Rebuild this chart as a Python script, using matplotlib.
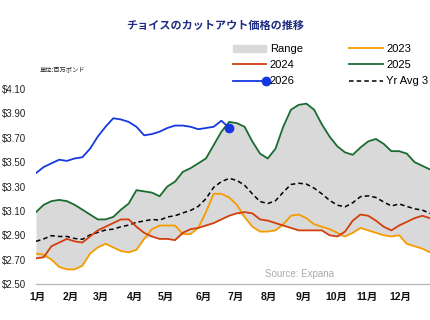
import numpy as np
import matplotlib
matplotlib.use("Agg")
import matplotlib.pyplot as plt
from matplotlib.lines import Line2D
from matplotlib.patches import Patch
from matplotlib.legend_handler import HandlerBase

plt.rcParams['font.family'] = ['Liberation Sans', 'Noto Sans CJK JP', 'DejaVu Sans']

# weekly prices ($)
y2023 = [2.75, 2.74, 2.70, 2.64, 2.62, 2.62, 2.65, 2.75, 2.80, 2.83, 2.80, 2.77, 2.76, 2.78,
         2.87, 2.95, 2.98, 2.98, 2.98, 2.91, 2.91, 2.96, 3.09, 3.24, 3.24, 3.21, 3.15, 3.05,
         2.97, 2.93, 2.93, 2.94, 2.99, 3.06, 3.07, 3.04, 2.99, 2.97, 2.95, 2.92, 2.89, 2.92,
         2.96, 2.94, 2.92, 2.90, 2.89, 2.90, 2.83, 2.81, 2.79, 2.76]
y2024 = [2.71, 2.72, 2.81, 2.84, 2.87, 2.85, 2.84, 2.89, 2.94, 2.97, 3.00, 3.03, 3.03, 2.97,
         2.92, 2.89, 2.87, 2.87, 2.86, 2.92, 2.95, 2.96, 2.98, 3.00, 3.03, 3.06, 3.08, 3.09,
         3.08, 3.03, 3.02, 3.00, 2.98, 2.96, 2.94, 2.94, 2.94, 2.94, 2.90, 2.89, 2.93, 3.02,
         3.07, 3.06, 3.02, 2.97, 2.94, 2.98, 3.01, 3.04, 3.06, 3.04]
y2025 = [3.09, 3.15, 3.18, 3.19, 3.18, 3.15, 3.11, 3.07, 3.03, 3.03, 3.05, 3.11, 3.16, 3.27,
         3.26, 3.25, 3.22, 3.30, 3.34, 3.42, 3.45, 3.49, 3.53, 3.64, 3.75, 3.83, 3.82, 3.79,
         3.67, 3.57, 3.53, 3.61, 3.79, 3.93, 3.97, 3.98, 3.93, 3.81, 3.71, 3.63, 3.58, 3.56,
         3.62, 3.67, 3.69, 3.65, 3.59, 3.59, 3.57, 3.50, 3.47, 3.44]
y2026 = [3.41, 3.46, 3.49, 3.52, 3.51, 3.53, 3.54, 3.61, 3.71, 3.79, 3.86, 3.85, 3.83, 3.79,
         3.72, 3.73, 3.75, 3.78, 3.80, 3.80, 3.79, 3.77, 3.78, 3.79, 3.84, 3.78]

month_labels = ['1月', '2月', '3月', '4月', '5月', '6月', '7月', '8月', '9月', '10月', '11月', '12月']
month_weeks = [0.2, 4.5, 8.4, 12.8, 16.8, 21.7, 25.9, 30.1, 34.7, 38.9, 42.8, 47.2]
yticks = [2.50, 2.70, 2.90, 3.10, 3.30, 3.50, 3.70, 3.90, 4.10]

past = np.array([y2023, y2024, y2025])
lo = past.min(axis=0)
hi = past.max(axis=0)
avg3 = past.mean(axis=0)
wk = np.arange(len(y2023))
wk26 = np.arange(len(y2026))

c23, c24, c25, c26 = '#F59C00', '#D23F0C', '#1A6B30', '#1638E0'
fill_c = '#D9D9D9'


# legend entry for 2026: line with the dot only at its right end
class EndDot(HandlerBase):
    def create_artists(self, legend, orig_handle, xdescent, ydescent,
                       width, height, fontsize, trans):
        y = (height - ydescent) / 2
        ln = Line2D([-xdescent, width - xdescent], [y, y], color=c26, lw=1.3)
        dot = Line2D([width - xdescent], [y], color=c26, marker='o',
                     markersize=6, ls='none')
        ln.set_transform(trans)
        dot.set_transform(trans)
        return [ln, dot]


fig = plt.figure(figsize=(4.3, 3.2), dpi=100)
ax = fig.add_axes([36 / 430, 1 - 284 / 320, 1 - 36 / 430, 195 / 320])

ax.fill_between(wk, lo, hi, color=fill_c, lw=0, zorder=1)
ax.plot(wk, avg3, color='black', lw=1.1, ls=(0, (3, 2)), zorder=2)
ax.plot(wk, y2023, color=c23, lw=1.3, zorder=3)
ax.plot(wk, y2024, color=c24, lw=1.3, zorder=3)
ax.plot(wk, y2025, color=c25, lw=1.3, zorder=3)
ax.plot(wk26, y2026, color=c26, lw=1.3, zorder=4,
        marker='o', markersize=6, markevery=[len(y2026) - 1])

ax.set_xlim(0, len(y2023) - 1)
ax.set_ylim(2.50, 4.10)
ax.set_yticks(yticks)
ax.set_yticklabels(['${:.2f}'.format(v) for v in yticks], fontsize=7, color='#222222')
ax.set_xticks(month_weeks)
ax.set_xticklabels(month_labels, fontsize=7.5, fontweight='bold', color='#111111')
ax.tick_params(axis='both', length=0)
ax.tick_params(axis='y', pad=7)
ax.tick_params(axis='x', pad=6)
for s in ['top', 'right', 'left']:
    ax.spines[s].set_visible(False)
ax.spines['bottom'].set_color('#BBBBBB')
ax.spines['bottom'].set_linewidth(1)

ax.text(0.58, 0.035, 'Source: Expana', transform=ax.transAxes, fontsize=7, color='#AAAAAA')

fig.text(0.5, 1 - 25 / 320, 'チョイスのカットアウト価格の推移', ha='center', va='center',
         fontsize=8, fontweight='bold', color='#1F2C80', family=['Noto Sans CJK JP'])
fig.text(40 / 430, 1 - 69 / 320, '単位:百万ポンド', ha='left', va='center',
         fontsize=4.5, color='#222222', family=['Noto Sans CJK JP'])

h26 = Line2D([], [], color=c26)
handles = [
    Patch(color=fill_c),
    Line2D([], [], color=c24, lw=1.3),
    h26,
    Line2D([], [], color=c23, lw=1.3),
    Line2D([], [], color=c25, lw=1.3),
    Line2D([], [], color='black', lw=1.1, ls=(0, (3, 2))),
]
labels = ['Range', '2024', '2026', '2023', '2025', 'Yr Avg 3']
fig.legend(handles, labels, loc='upper left', bbox_to_anchor=(233 / 430, 1 - 44 / 320),
           ncol=2, frameon=False, fontsize=8, handlelength=3.0, handleheight=0.6,
           handletextpad=0.3, columnspacing=4.2, labelspacing=0.55,
           borderpad=0, borderaxespad=0, handler_map={h26: EndDot()})

fig.savefig('out.png', dpi=100)
